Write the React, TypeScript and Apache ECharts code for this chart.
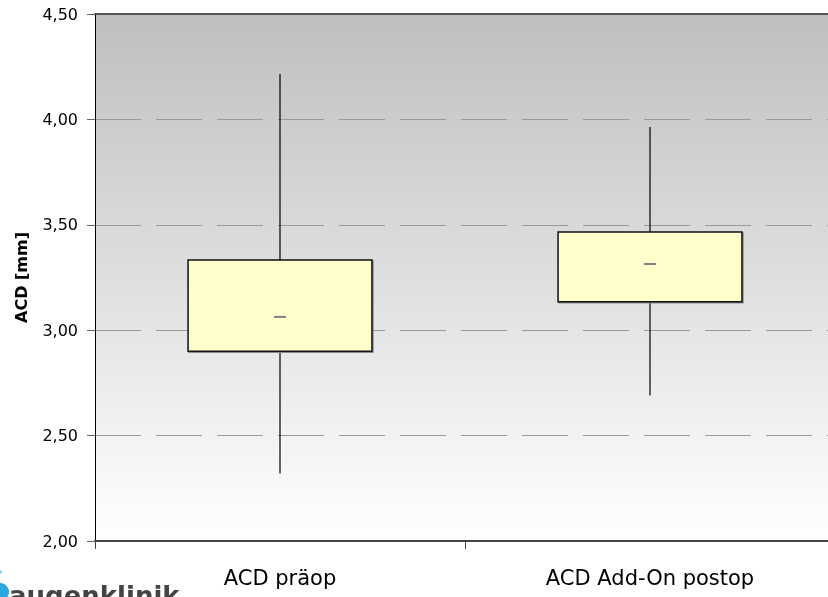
import React, { useEffect, useRef } from "react";
import * as echarts from "echarts";

const categories = ["ACD präop", "ACD Add-On postop"];
const whiskerMin = [2.32, 2.69];
const q1 = [2.9, 3.135];
const median = [3.063, 3.314];
const q3 = [3.333, 3.466];
const whiskerMax = [4.215, 3.964];
const yTicks = { min: 2, max: 4.5, interval: 0.5 };

const FONT = "DejaVu Sans, Liberation Sans, Arial, sans-serif";

export default function App() {
  const ref = useRef<HTMLDivElement>(null);
  useEffect(() => {
    if (!ref.current) return;
    const chart = echarts.init(ref.current, null, { renderer: "svg" });
    const data = categories.map((_, i) => [i, whiskerMin[i], q1[i], median[i], q3[i], whiskerMax[i]]);
    chart.setOption({
      animation: false,
      grid: {
        left: 95,
        right: 0,
        top: 14,
        bottom: 56,
        show: true,
        borderWidth: 0,
        backgroundColor: new echarts.graphic.LinearGradient(0, 0, 0, 1, [
          { offset: 0, color: "#bfbfbf" },
          { offset: 1, color: "#ffffff" },
        ]),
      },
      xAxis: [
        {
          type: "category",
          data: categories,
          boundaryGap: true,
          axisLine: { lineStyle: { color: "#444", width: 2 } },
          axisTick: { show: true, length: 8, lineStyle: { color: "#444", width: 1 } },
          axisLabel: { color: "#000", fontSize: 21, fontFamily: FONT, margin: 26 },
          splitLine: { show: false },
        },
        {
          type: "category",
          data: categories,
          position: "top",
          axisLine: { lineStyle: { color: "#555", width: 2 } },
          axisTick: { show: false },
          axisLabel: { show: false },
        },
      ],
      yAxis: {
        type: "value",
        min: yTicks.min,
        max: yTicks.max,
        interval: yTicks.interval,
        name: "ACD [mm]",
        nameLocation: "middle",
        nameGap: 66,
        nameTextStyle: { color: "#000", fontSize: 16, fontWeight: "bold", fontFamily: FONT },
        axisLine: { show: true, lineStyle: { color: "#000", width: 1 } },
        axisTick: { show: true, length: 8, lineStyle: { color: "#666" } },
        axisLabel: {
          color: "#000",
          fontSize: 16,
          fontFamily: FONT,
          margin: 17,
          formatter: (v: number) => v.toFixed(2).replace(".", ","),
        },
        splitLine: { show: true, lineStyle: { color: "#9a9a9a", width: 1, type: [46, 15] } },
      },
      series: [
        {
          type: "custom",
          data,
          encode: { x: 0, y: [1, 2, 3, 4, 5] },
          renderItem: (params: any, api: any) => {
            const x = api.value(0);
            const pMin = api.coord([x, api.value(1)]);
            const pQ1 = api.coord([x, api.value(2)]);
            const pMed = api.coord([x, api.value(3)]);
            const pQ3 = api.coord([x, api.value(4)]);
            const pMax = api.coord([x, api.value(5)]);
            const band = api.size([1, 0])[0];
            const w = band * 0.497;
            const cx = pMed[0];
            return {
              type: "group",
              children: [
                { type: "line", shape: { x1: cx, y1: pMax[1], x2: cx, y2: pQ3[1] }, style: { stroke: "#000", lineWidth: 1.2 } },
                { type: "line", shape: { x1: cx, y1: pQ1[1], x2: cx, y2: pMin[1] }, style: { stroke: "#000", lineWidth: 1.2 } },
                {
                  type: "rect",
                  shape: { x: cx - w / 2 + 1, y: pQ3[1] + 1, width: w, height: pQ1[1] - pQ3[1] },
                  style: { fill: "none", stroke: "#888", lineWidth: 1.5 },
                },
                {
                  type: "rect",
                  shape: { x: cx - w / 2, y: pQ3[1], width: w, height: pQ1[1] - pQ3[1] },
                  style: { fill: "#ffffcc", stroke: "#111", lineWidth: 1.5 },
                },
                { type: "line", shape: { x1: cx - 6, y1: pMed[1], x2: cx + 6, y2: pMed[1] }, style: { stroke: "#808080", lineWidth: 2 } },
              ],
            };
          },
        },
      ],
      graphic: [
        { type: "circle", shape: { cx: 0, cy: 592, r: 9 }, style: { fill: "#2aa7df" } },
        { type: "circle", shape: { cx: 0, cy: 572, r: 2 }, style: { fill: "#8fd3f0" } },
        {
          type: "text",
          left: 9,
          top: 583,
          style: { text: "augenklinik", fill: "#444", font: "bold 26px DejaVu Sans, Liberation Sans, Arial, sans-serif" },
        },
      ],
    });
    return () => chart.dispose();
  }, []);
  return <div ref={ref} style={{ position: "fixed", left: 0, top: 0, width: 835, height: 597 }} />;
}
